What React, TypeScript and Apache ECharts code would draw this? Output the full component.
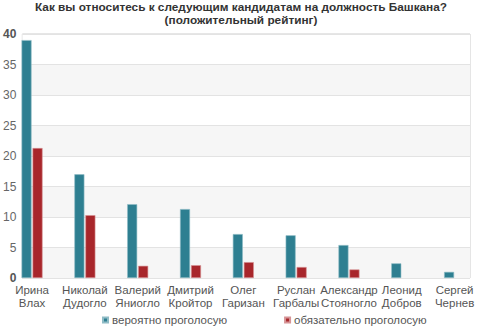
import React, { useEffect, useRef } from "react";
import * as echarts from "echarts";

const categories = [
  "Ирина\nВлах",
  "Николай\nДудогло",
  "Валерий\nЯниогло",
  "Дмитрий\nКройтор",
  "Олег\nГаризан",
  "Руслан\nГарбалы",
  "Александр\nСтояногло",
  "Леонид\nДобров",
  "Сергей\nЧернев",
];
const probably = [39.0, 17.0, 12.1, 11.3, 7.2, 7.0, 5.4, 2.4, 1.0];
const definitely = [21.3, 10.3, 2.0, 2.1, 2.6, 1.8, 1.4, 0, 0];
const seriesNames = ["вероятно проголосую", "обязательно проголосую"];
const titleText = "Как вы относитесь к следующим кандидатам на должность Башкана?\n(положительный рейтинг)";

const barData = (arr: number[]) =>
  arr.map((v) => (v === 0 ? { value: v, itemStyle: { borderWidth: 0, opacity: 0 } } : v));

export default function App() {
  const ref = useRef<HTMLDivElement>(null);
  useEffect(() => {
    if (!ref.current) return;
    const chart = echarts.init(ref.current, undefined, { renderer: "svg" });
    const font = "'Liberation Sans', Arial, sans-serif";
    chart.setOption({
      animation: false,
      backgroundColor: "#fff",
      textStyle: { fontFamily: font },
      title: {
        text: titleText,
        left: "center",
        top: 0.5,
        padding: 0,
        textStyle: { fontSize: 11.8, fontWeight: "bold", color: "#333", lineHeight: 13, fontFamily: font },
      },
      legend: {
        top: 314,
        left: 102,
        padding: 0,
        itemWidth: 5,
        itemHeight: 5,
        itemGap: 57,
        icon: "rect",
        textStyle: { fontSize: 11.5, color: "#555", fontFamily: font, padding: [0, 0, 0, -1] },
        data: seriesNames,
      },
      grid: [
        { left: 20, right: 12, top: 34, bottom: 49, show: true, borderColor: "#cccccc", borderWidth: 1 },
        { left: 5.65, right: 1, top: 34, bottom: 49 },
      ],
      xAxis: [
        { type: "value", gridIndex: 0, show: false, min: 0, max: 1 },
        {
          type: "category",
          gridIndex: 1,
          data: categories,
          axisLine: { show: false },
          axisTick: { show: false },
          axisLabel: { interval: 0, fontSize: 11.5, color: "#555", lineHeight: 13.5, margin: 5, fontFamily: font },
        },
      ],
      yAxis: [
        {
          type: "value",
          gridIndex: 0,
          min: 0,
          max: 40,
          interval: 5,
          axisLine: { show: false },
          axisTick: { show: false },
          splitLine: { lineStyle: { color: "#e3e3e3" } },
          splitArea: { show: true, areaStyle: { color: ["#f6f6f6", "#ffffff"] } },
          axisLabel: {
            margin: 6,
            fontSize: 12,
            color: "#666",
            fontFamily: font,
            formatter: (v: number) => (v === 0 || v === 40 ? `{b|${v}}` : `${v}`),
            rich: { b: { fontWeight: "bold", fontSize: 12, color: "#555", fontFamily: font } },
          },
        },
        { type: "value", gridIndex: 1, min: 0, max: 40, interval: 5, show: false },
      ],
      series: [
        {
          name: seriesNames[0],
          type: "bar",
          xAxisIndex: 1,
          yAxisIndex: 1,
          data: barData(probably),
          barWidth: 10,
          barGap: "10%",
          itemStyle: { color: "#2e7f91", borderColor: "#8fbcc6", borderWidth: 0.6 },
        },
        {
          name: seriesNames[1],
          type: "bar",
          xAxisIndex: 1,
          yAxisIndex: 1,
          data: barData(definitely),
          barWidth: 10,
          itemStyle: { color: "#a8262b", borderColor: "#d69496", borderWidth: 0.6 },
        },
      ],
    });
    return () => chart.dispose();
  }, []);
  return <div ref={ref} style={{ position: "absolute", left: 0, top: 0, width: 482, height: 327 }} />;
}
